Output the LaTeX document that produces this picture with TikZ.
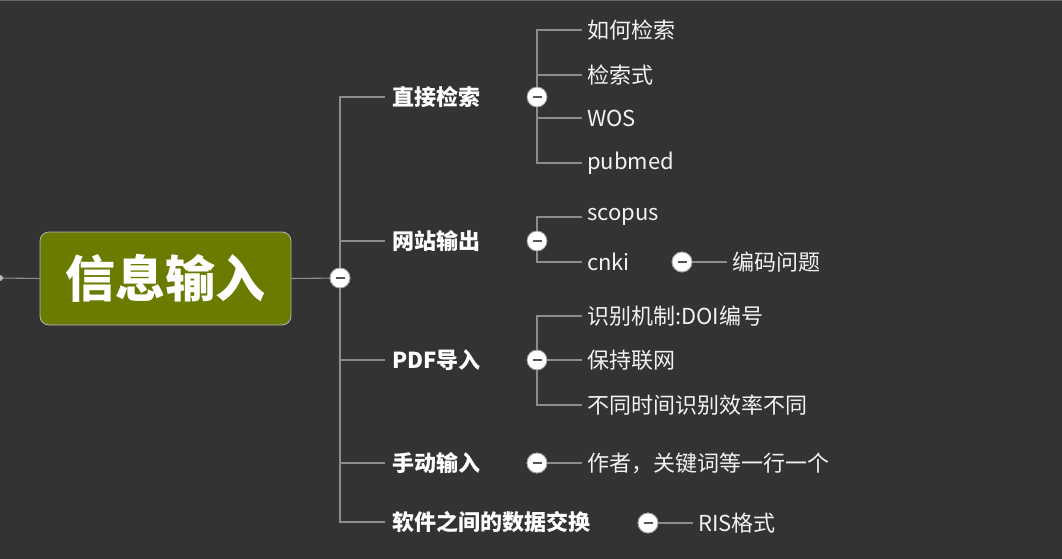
\documentclass[tikz,border=0pt]{standalone}
\usepackage{fontspec}
\setmainfont{Noto Sans CJK SC}
\newfontfamily\cjk{Noto Sans CJK SC}
\begin{document}
\begin{tikzpicture}[x=1pt,y=-1pt,
  conn/.style={draw=lineC, line width=1.1pt},
  rootbox/.style={draw=boxB, line width=0.8pt, fill=rootG, rounded corners=9pt, minimum width=251pt, minimum height=93pt, text=white, font=\cjk\bfseries\fontsize{50}{54}\selectfont},
  mainlab/.style={anchor=west, inner xsep=7pt, inner ysep=0pt, text=white, font=\cjk\bfseries\fontsize{22}{26}\selectfont},
  sublab/.style={anchor=west, inner xsep=5pt, inner ysep=0pt, text=textC, font=\cjk\fontsize{22}{26}\selectfont},
  fold/.style={circle, draw=circB, line width=0.8pt, fill=white, minimum size=20pt, inner sep=0pt,
     path picture={\draw[line width=1.8pt, draw=minusC] ([xshift=-4.5pt]path picture bounding box.center) -- ([xshift=4.5pt]path picture bounding box.center);}},
]
\definecolor{bgC}{HTML}{333333}
\definecolor{lineC}{HTML}{8C8C8C}
\definecolor{rootG}{HTML}{6B7B00}
\definecolor{boxB}{HTML}{B4B4B4}
\definecolor{textC}{HTML}{F2F2F2}
\definecolor{circB}{HTML}{9A9A9A}
\definecolor{minusC}{HTML}{555555}
\fill[bgC] (0,0) rectangle (1062,559);
\useasboundingbox (0,0) rectangle (1062,559);
\draw[draw=black!60!white, line width=1pt] (0,0.5) -- (1062,0.5);

% root
\node[rootbox] (root) at (165.5,278.5) {信息输入};
\coordinate (lstub) at (0,278);
\draw[conn] (lstub) -- (root.west);
\fill[lineC!60!white] (lstub) circle (3pt);

% main fold
\node[fold] (c0) at (340,278) {};
\draw[conn] (root.east) -- (c0);

% level 1 labels
\node[mainlab] (b1) at (385,97) {直接检索};
\node[mainlab] (b2) at (385,241) {网站输出};
\node[mainlab] (b3) at (385,360) {PDF导入};
\node[mainlab] (b4) at (385,463) {手动输入};
\node[mainlab] (b5) at (385,522) {软件之间的数据交换};
\foreach \b in {b1,b2,b3,b4,b5} {\draw[conn] (c0) |- (\b.west);}
\node[fold] at (c0) {};

% 直接检索 children
\node[sublab] (k1) at (582,30) {如何检索};
\node[sublab] (k2) at (582,75) {检索式};
\node[sublab] (k3) at (582,118) {WOS};
\node[sublab] (k4) at (582,163) {pubmed};
\coordinate (f1) at (537,97);
\foreach \k in {k1,k2,k3,k4} {\draw[conn] (f1) |- (\k.west);}
\node[fold] (c1) at (f1) {};

% 网站输出 children
\node[sublab] (w1) at (582,217) {scopus};
\node[sublab] (w2) at (582,262) {cnki};
\coordinate (f2) at (537,241);
\foreach \k in {w1,w2} {\draw[conn] (f2) |- (\k.west);}
\node[fold] (c2) at (f2) {};
\node[sublab] (w3) at (727,262) {编码问题};
\node[fold] (c3) at (682,262) {};
\draw[conn] (c3) -- (w3.west);
\node[fold] at (c3) {};

% PDF导入 children
\node[sublab] (p1) at (582,316) {识别机制:DOI编号};
\node[sublab] (p2) at (582,360) {保持联网};
\node[sublab] (p3) at (582,405) {不同时间识别效率不同};
\coordinate (f3) at (537,360);
\foreach \k in {p1,p2,p3} {\draw[conn] (f3) |- (\k.west);}
\node[fold] (c4) at (f3) {};

% 手动输入
\node[sublab] (m1) at (582,463) {作者，关键词等一行一个};
\node[fold] (c5) at (537,463) {};
\draw[conn] (c5) -- (m1.west);
\node[fold] at (c5) {};

% 软件之间的数据交换
\node[sublab] (r1) at (693,523) {RIS格式};
\node[fold] (c6) at (648,523) {};
\draw[conn] (c6) -- (r1.west);
\node[fold] at (c6) {};
\end{tikzpicture}
\end{document}
